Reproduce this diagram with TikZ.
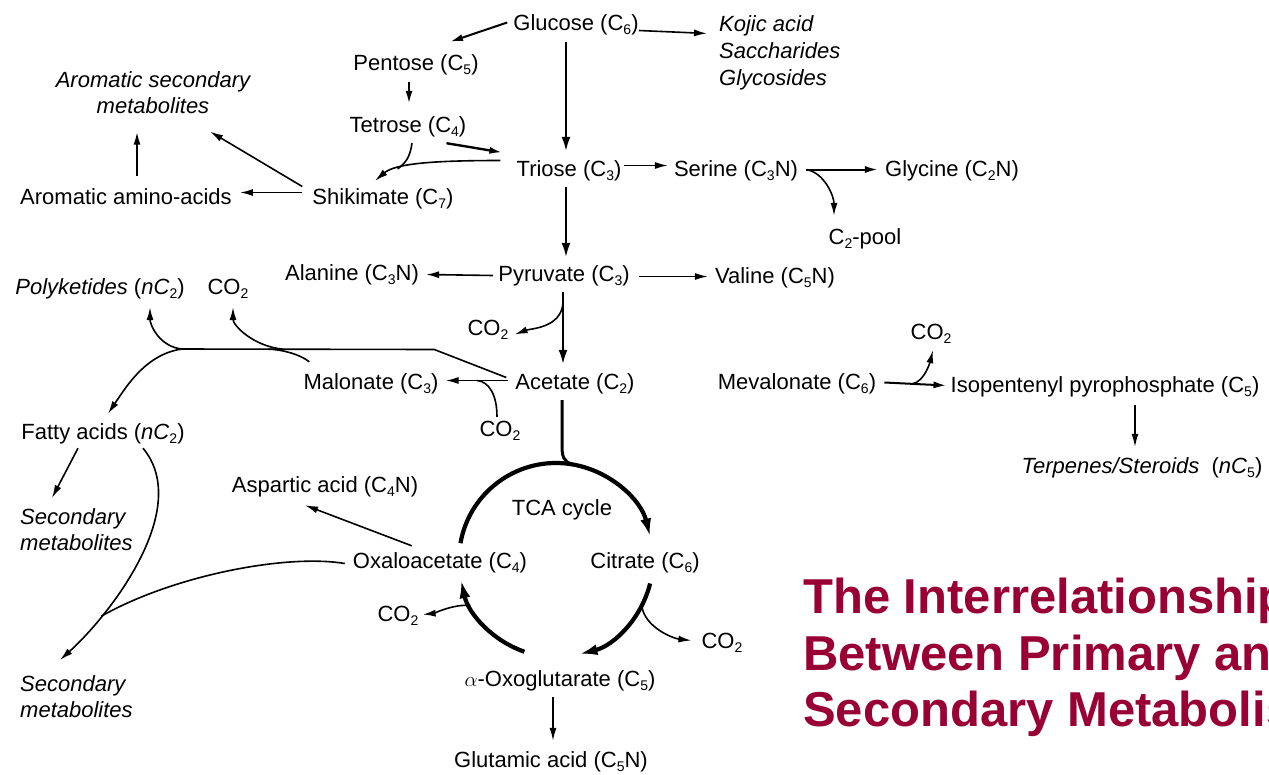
\documentclass[tikz,border=0pt]{standalone}
\usepackage{fontspec}
\setmainfont{Liberation Sans}
\usetikzlibrary{arrows.meta,calc}
\definecolor{titlered}{RGB}{153,0,51}
\newcommand{\subsc}[1]{\raisebox{-0.4ex}{\fontsize{14}{14}\selectfont #1}}

\begin{document}
\begin{tikzpicture}[x=1pt,y=-1pt,
    metab/.style={font=\fontsize{22}{26}\selectfont, inner sep=2pt, text height=16pt, text depth=5pt, anchor=base},
    prod/.style={font=\fontsize{22}{26}\selectfont\itshape, inner sep=2pt, align=center},
    arr/.style={-{Latex[length=13pt,width=7pt]}, line width=1.6pt},
    bigarr/.style={-{Latex[length=15pt,width=9pt]}, line width=2.8pt},
    cyc/.style={-{Latex[length=18pt,width=11pt]}, line width=4.2pt}]
  \useasboundingbox (0,0) rectangle (1269,774);

  % metabolites
  \node[metab] (glc) at (576,30) {Glucose (C\subsc{6})};
  \node[prod, anchor=north west, align=left, font=\fontsize{22}{27}\selectfont\itshape] (kojic) at (717,13) {Kojic acid\\Saccharides\\Glycosides};
  \node[metab] (pen) at (416,70) {Pentose (C\subsc{5})};
  \node[prod, anchor=north] (aromsec) at (153,69) {Aromatic secondary\\metabolites};
  \node[metab] (tet) at (408,132) {Tetrose (C\subsc{4})};
  \node[metab] (tri) at (569,176) {Triose (C\subsc{3})};
  \node[metab] (ser) at (736,176) {Serine (C\subsc{3}N)};
  \node[metab] (gly) at (952,176) {Glycine (C\subsc{2}N)};
  \node[metab] (aaa) at (126,204) {Aromatic amino-acids};
  \node[metab] (shk) at (383,204) {Shikimate (C\subsc{7})};
  \node[metab] (c2p) at (865,244) {C\subsc{2}-pool};
  \node[metab] (ala) at (352,280) {Alanine (C\subsc{3}N)};
  \node[metab] (pyr) at (564,281) {Pyruvate (C\subsc{3})};
  \node[metab] (val) at (775,283) {Valine (C\subsc{5}N)};
  \node[metab] (pk) at (100,294) {\textit{Polyketides} (\textit{nC}\subsc{2})};
  \node[metab] (co2a) at (228,294) {CO\subsc{2}};
  \node[metab] (co2b) at (488,335) {CO\subsc{2}};
  \node[metab] (co2c) at (931,339) {CO\subsc{2}};
  \node[metab] (mal) at (371,389) {Malonate (C\subsc{3})};
  \node[metab] (ace) at (575,389) {Acetate (C\subsc{2})};
  \node[metab] (mev) at (797,389) {Mevalonate (C\subsc{6})};
  \node[metab] (ipp) at (1105,392) {Isopentenyl pyrophosphate (C\subsc{5})};
  \node[metab] (co2d) at (500,436) {CO\subsc{2}};
  \node[metab] (fa) at (103,439) {Fatty acids (\textit{nC}\subsc{2})};
  \node[metab] (terp) at (1142,473) {\textit{Terpenes/Steroids}\ \ (\textit{nC}\subsc{5})};
  \node[metab] (asp) at (325,492) {Aspartic acid (C\subsc{4}N)};
  \node[metab] (tca) at (562,515) {TCA cycle};
  \node[prod, anchor=north west, align=left] (sm1) at (18,506) {Secondary\\metabolites};
  \node[metab] (oxa) at (440,568) {Oxaloacetate (C\subsc{4})};
  \node[metab] (cit) at (645,568) {Citrate (C\subsc{6})};
  \node[metab] (co2e) at (398,621) {CO\subsc{2}};
  \node[metab] (co2f) at (722,648) {CO\subsc{2}};
  \node[prod, anchor=north west, align=left] (sm2) at (18,673) {Secondary\\metabolites};
  \node[metab] (oxg) at (560,686) {$\alpha$-Oxoglutarate (C\subsc{5})};
  \node[metab] (glu) at (551,767) {Glutamic acid (C\subsc{5}N)};
  \coordinate (cyc) at (556,560);

  \node[anchor=north west, inner sep=0pt, align=left, text=titlered, font=\fontsize{49}{56.5}\selectfont\bfseries] (title) at (803,578) {The Interrelationship\\Between Primary and\\Secondary Metabolism};

  % sugars
  \draw[arr, line width=2pt] ($(glc.west)+(-4,-2)$) -- ($(pen.north)+(34,-10)$);
  \draw[arr] ($(glc.east)+(-2,6)$) -- ($(kojic.west)+(-10,-19)$);
  \draw[bigarr] ($(glc.south)+(-10,5)$) -- ($(tri.north)+(-3,-6)$);
  \draw[arr, line width=2pt] ($(pen.south)+(-7,5)$) -- ($(tet.north)+(1,-10)$);
  \draw[arr, line width=2.4pt] ($(tet.south east)+(-22,4)$) -- ($(tri.west)+(-12,-18)$);
  \draw[arr] ($(tri.west)+(-14,-10)$) .. controls +(-70,0) and +(20,-17) .. ($(shk.north)+(-8,-5)$) coordinate[pos=0.7] (tsk);
  \draw[line width=1.6pt] ($(tet.south)+(4,4)$) .. controls +(-2,14) and +(8,-6) .. (tsk);

  % shikimate
  \draw[arr] ($(shk.west)+(-8,-12)$) -- ($(aromsec.south)+(57,16)$);
  \draw[arr] ($(shk.west)+(-8,-6)$) -- ($(aaa.east)+(6,-6)$);
  \draw[arr, line width=2pt] ($(aaa.north)+(11,-10)$) -- ($(aromsec.south)+(-16,16)$);

  % serine
  \draw[arr] ($(tri.east)+(0,-5)$) -- ($(ser.west)+(-4,-5)$);
  \draw[arr, line width=2pt] ($(ser.east)+(6,-1)$) coordinate (sj) -- ($(gly.west)+(-5,-1)$);
  \draw[arr] (sj) .. controls +(18,3) and +(0,-20) .. ($(c2p.north)+(-31,-10)$);

  % pyruvate
  \draw[bigarr] ($(tri.south)+(-3,4)$) -- ($(pyr.north)+(2,-5)$);
  \draw[arr] ($(pyr.west)+(-3,0)$) -- ($(ala.east)+(5,0)$);
  \draw[arr] ($(pyr.east)+(7,1)$) -- ($(val.west)+(-5,-1)$);
  \draw[bigarr] ($(pyr.south)+(-1,4)$) -- ($(ace.north)+(-12,-6)$) coordinate[pos=0.15] (pa);
  \draw[arr] (pa) .. controls +(-2,25) and +(16,-6) .. ($(co2b.east)+(4,5)$);

  % acetate
  \draw[arr] ($(ace.west)+(-5,-3)$) -- ($(mal.east)+(5,-3)$) coordinate[pos=0.5] (am);
  \draw[line width=1.6pt] ($(co2d.north)+(-3,-1)$) .. controls +(0,-22) and +(12,1) .. (am);
  \coordinate (pkj) at (182,349);
  \draw[line width=1.6pt] ($(ace.west)+(-7,-6)$) -- ++(-72,-28) -- (pkj) coordinate[pos=0.6] (cj) coordinate[pos=0.66] (mj);
  \draw[arr] (pkj) .. controls +(-22,-2) and +(0,18) .. ($(pk.south)+(50,6)$);
  \draw[arr] (cj) .. controls +(-30,-3) and +(0,18) .. ($(co2a.south)+(5,6)$);
  \draw[line width=1.6pt] ($(mal.north west)+(8,-9)$) .. controls +(-10,-8) and +(12,0) .. (mj);
  \draw[arr] (pkj) .. controls +(-35,5) and +(20,-30) .. ($(fa.north)+(5,-7)$);

  % mevalonate
  \draw[arr, line width=2pt] ($(mev.east)+(6,-1)$) -- ($(ipp.west)+(-2,-1)$) coordinate[pos=0.45] (mvj);
  \draw[arr] (mvj) .. controls +(12,-2) and +(-3,12) .. ($(co2c.south)+(2,4)$);
  \draw[arr, line width=1.3pt] ($(ipp.south)+(30,6)$) -- ($(terp.north)+(-7,-8)$);

  % fatty acids
  \draw[arr] ($(fa.south)+(-25,2)$) -- ($(sm1.north west)+(34,-8)$);
  \draw[arr] ($(fa.south)+(40,2)$) .. controls +(50,60) and +(50,-45) .. ($(sm2.north west)+(42,-13)$) coordinate[pos=0.75] (fj);
  \draw[line width=1.6pt] ($(oxa.west)+(-6,1)$) .. controls +(-60,-10) and +(70,-40) .. (fj);
  \draw[arr] ($(oxa.north west)+(61,-4)$) -- ($(asp.south)+(-20,6)$);

  % TCA cycle
  \draw[line width=3pt] ($(ace.south)+(-13,4)$) -- ++(0,44) .. controls +(0,12) and +(-10,-3) .. ($(cyc)+(280:97)$);
  \draw[cyc] ($(cyc)+(190:97)$) arc[start angle=190, end angle=346, radius=97];
  \draw[cyc] ($(cyc)+(14:97)$) arc[start angle=14, end angle=76, radius=97];
  \draw[cyc] ($(cyc)+(109:97)$) arc[start angle=109, end angle=168, radius=97];
  \draw[arr] ($(cyc)+(28:97)$) .. controls +(3,22) and +(-18,-2) .. ($(co2f.west)+(-8,-2)$);
  \draw[arr] ($(cyc)+(152:97)$) .. controls +(-15,-2) and +(10,-1) .. ($(co2e.east)+(2,-1)$);
  \draw[arr] ($(oxg.south)+(-7,4)$) -- ($(glu.north)+(2,-8)$);
\end{tikzpicture}
\end{document}
